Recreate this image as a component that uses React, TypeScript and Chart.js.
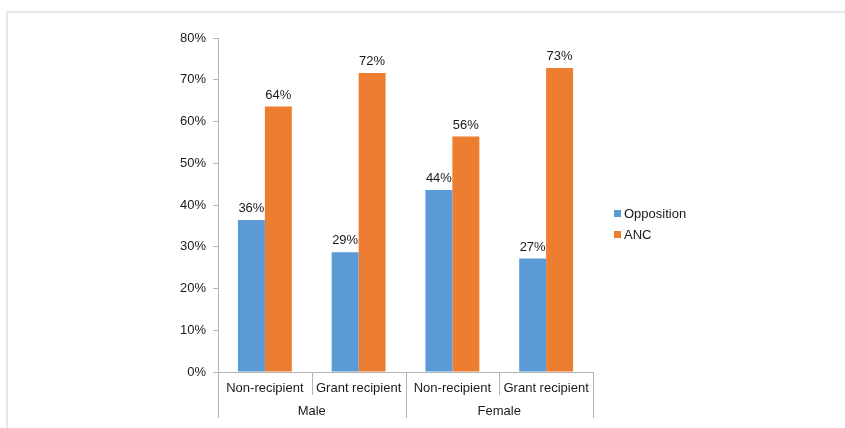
import React, { useEffect, useRef } from "react";
import { Chart, registerables } from "chart.js";

Chart.register(...registerables);

const subLabels = ["Non-recipient", "Grant recipient", "Non-recipient", "Grant recipient"];
const groupLabels = ["Male", "Female"];
const opposition = [36.4, 28.7, 43.6, 27.2];
const anc = [63.6, 71.6, 56.4, 72.8];
const seriesNames = ["Opposition", "ANC"];
const seriesColors = ["#5B9BD5", "#ED7D31"];
const yTicks = [0, 10, 20, 30, 40, 50, 60, 70, 80];

const FONT = "'Liberation Sans', Arial, sans-serif";
const AXIS = "#b3b3b3";
const TEXT = "#1a1a1a";

const dataLabels = {
  id: "dataLabels",
  afterDatasetsDraw(chart: any) {
    const ctx = chart.ctx;
    ctx.save();
    ctx.font = `13px ${FONT}`;
    ctx.fillStyle = TEXT;
    ctx.textAlign = "center";
    ctx.textBaseline = "bottom";
    chart.data.datasets.forEach((ds: any, di: number) => {
      const meta = chart.getDatasetMeta(di);
      meta.data.forEach((bar: any, i: number) => {
        ctx.fillText(Math.round(ds.data[i]) + "%", bar.x, bar.y - 5);
      });
    });
    ctx.restore();
  },
};

const dividers = {
  id: "dividers",
  afterDraw(chart: any) {
    const xs = chart.scales.x;
    const x2 = chart.scales.x2;
    const ctx = chart.ctx;
    ctx.save();
    ctx.strokeStyle = AXIS;
    ctx.lineWidth = 1;
    for (let i = 0; i <= subLabels.length; i++) {
      const px = Math.round(xs.getPixelForValue(i - 0.5)) + 0.5;
      const bottom = i % 2 === 0 ? x2.bottom : xs.bottom;
      ctx.beginPath();
      ctx.moveTo(px, xs.top);
      ctx.lineTo(px, bottom);
      ctx.stroke();
    }
    ctx.restore();
  },
};

export default function App() {
  const ref = useRef<HTMLCanvasElement>(null);
  useEffect(() => {
    document.body.style.margin = "0";
    const chart = new Chart(ref.current!, {
      type: "bar",
      data: {
        labels: subLabels,
        datasets: [
          { label: seriesNames[0], data: opposition, backgroundColor: seriesColors[0], xAxisID: "x", yAxisID: "y" },
          { label: seriesNames[1], data: anc, backgroundColor: seriesColors[1], xAxisID: "x", yAxisID: "y" },
        ],
      },
      options: {
        animation: false,
        responsive: false,
        devicePixelRatio: 1,
        layout: { padding: { left: 0, right: 252, top: 38, bottom: 10 } },
        datasets: { bar: { categoryPercentage: 0.575, barPercentage: 1 } },
        plugins: { legend: { display: false }, tooltip: { enabled: false } },
        scales: {
          y: {
            min: 0,
            max: 80,
            afterBuildTicks: (s: any) => {
              s.ticks = yTicks.map((v) => ({ value: v }));
            },
            afterFit: (s: any) => {
              s.width = 218;
            },
            ticks: {
              callback: (v: any) => v + "%",
              font: { family: FONT, size: 13 },
              color: TEXT,
              padding: 7,
            },
            grid: { drawOnChartArea: false, tickLength: 5, color: AXIS },
            border: { color: AXIS },
          },
          x: {
            type: "category",
            labels: subLabels,
            offset: true,
            grid: { display: false },
            border: { color: AXIS },
            ticks: { font: { family: FONT, size: 13 }, color: TEXT, padding: 1, maxRotation: 0, autoSkip: false },
            afterFit: (s: any) => {
              s.height = 23;
            },
          },
          x2: {
            type: "category",
            position: "bottom",
            labels: groupLabels,
            offset: true,
            grid: { display: false },
            border: { display: false },
            ticks: { font: { family: FONT, size: 13 }, color: TEXT, padding: 1, maxRotation: 0, autoSkip: false },
            afterFit: (s: any) => {
              s.height = 23;
            },
          },
        },
      },
      plugins: [dataLabels, dividers],
    } as any);
    return () => chart.destroy();
  }, []);

  return (
    <div style={{ position: "relative", width: 845, height: 428, overflow: "hidden", background: "#fff" }}>
      <div
        style={{
          position: "absolute",
          left: 6,
          top: 11,
          width: 860,
          height: 440,
          border: "2px solid #e8e8e8",
          boxSizing: "border-box",
        }}
      />
      <canvas ref={ref} width={845} height={428} style={{ position: "absolute", left: 0, top: 0 }} />
      <div style={{ position: "absolute", left: 614, top: 203, fontFamily: FONT, fontSize: 13, color: TEXT }}>
        {seriesNames.map((n, i) => (
          <div key={n} style={{ display: "flex", alignItems: "center", height: 21 }}>
            <span style={{ width: 7, height: 7, background: seriesColors[i], marginRight: 3, display: "inline-block" }} />
            <span>{n}</span>
          </div>
        ))}
      </div>
    </div>
  );
}
